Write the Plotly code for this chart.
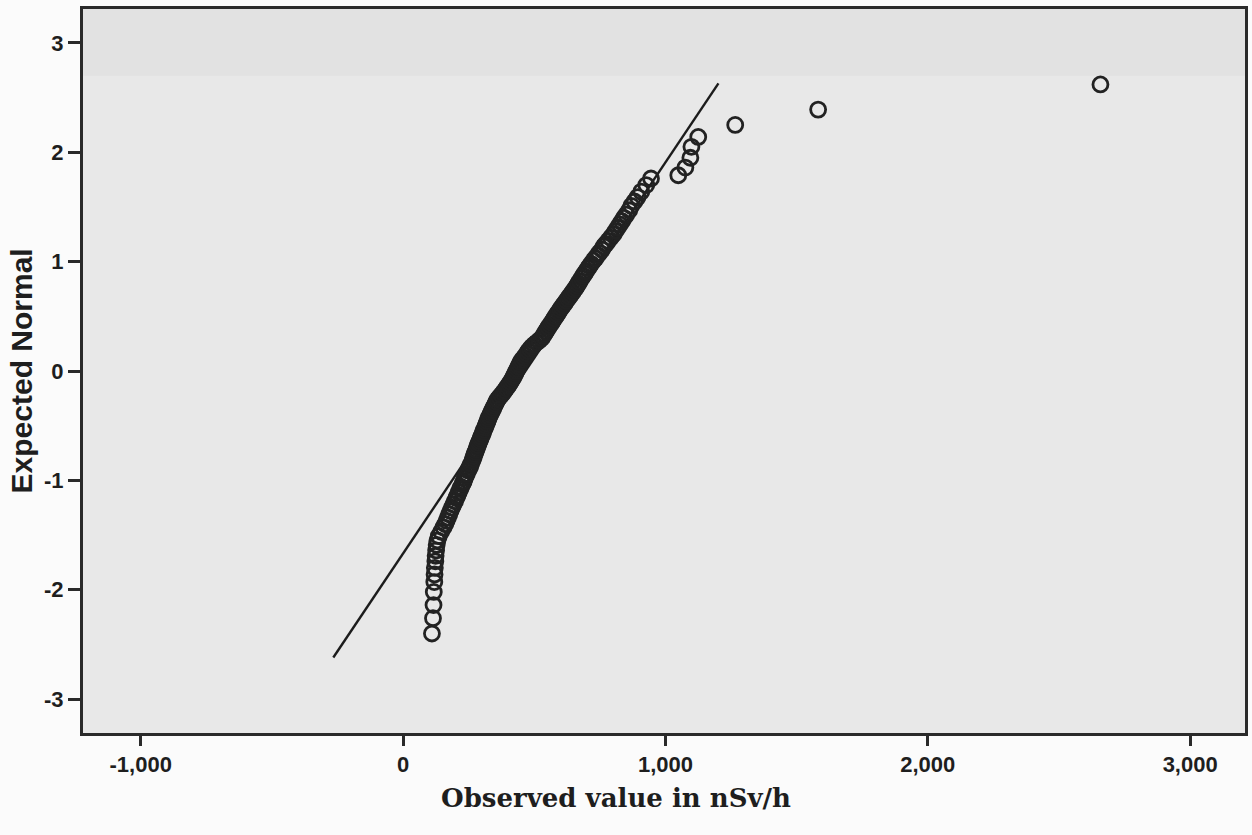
import plotly.graph_objects as go

# Normal Q-Q plot of dose-rate readings (nSv/h)
observed = [
    110, 114, 116, 117, 119, 120, 121, 123, 124, 126, 128, 131,
    136, 145, 154, 161, 166, 171, 176, 181, 186, 192, 198, 203,
    207, 212, 218, 221, 227, 231, 235, 239, 243, 248, 252, 256,
    259, 264, 267, 270, 273, 276, 279, 282, 285, 288, 292, 295,
    298, 302, 305, 308, 312, 315, 318, 322, 325, 328, 332, 336,
    340, 344, 348, 352, 356, 360, 367, 374, 381, 387, 393, 399,
    405, 410, 415, 420, 424, 428, 432, 436, 440, 444, 448, 453,
    460, 466, 472, 477, 484, 490, 499, 509, 519, 528, 534, 539,
    544, 549, 554, 560, 566, 571, 576, 582, 587, 593, 598, 604,
    610, 616, 622, 628, 634, 640, 646, 652, 658, 663, 668, 673,
    681, 686, 692, 697, 705, 711, 717, 726, 733, 742, 748, 758,
    765, 772, 782, 792, 802, 810, 818, 826, 834, 842, 851, 862,
    870, 882, 894, 908, 927, 945, 1049, 1076, 1095, 1099, 1125, 1266,
    1582, 2658,
]
expected_normal = [
    -2.40, -2.26, -2.14, -2.02, -1.93, -1.86, -1.80, -1.74, -1.69, -1.64, -1.59, -1.55,
    -1.51, -1.47, -1.43, -1.40, -1.37, -1.34, -1.31, -1.28, -1.25, -1.22, -1.19, -1.16,
    -1.14, -1.11, -1.08, -1.06, -1.03, -1.01, -0.98, -0.96, -0.94, -0.91, -0.89, -0.87,
    -0.85, -0.82, -0.80, -0.78, -0.76, -0.74, -0.72, -0.70, -0.68, -0.66, -0.64, -0.62,
    -0.60, -0.58, -0.56, -0.54, -0.52, -0.50, -0.48, -0.46, -0.44, -0.42, -0.40, -0.38,
    -0.36, -0.34, -0.32, -0.30, -0.28, -0.26, -0.24, -0.22, -0.20, -0.18, -0.16, -0.14,
    -0.12, -0.10, -0.08, -0.06, -0.04, -0.02, 0.00, 0.02, 0.04, 0.06, 0.08, 0.10,
    0.12, 0.14, 0.16, 0.18, 0.20, 0.22, 0.24, 0.26, 0.28, 0.30, 0.32, 0.34,
    0.36, 0.38, 0.40, 0.42, 0.44, 0.46, 0.48, 0.50, 0.52, 0.54, 0.56, 0.58,
    0.60, 0.62, 0.64, 0.66, 0.68, 0.70, 0.72, 0.74, 0.76, 0.78, 0.80, 0.82,
    0.85, 0.87, 0.89, 0.91, 0.94, 0.96, 0.98, 1.01, 1.03, 1.06, 1.08, 1.11,
    1.14, 1.16, 1.19, 1.22, 1.25, 1.28, 1.31, 1.34, 1.37, 1.40, 1.43, 1.47,
    1.51, 1.55, 1.59, 1.64, 1.70, 1.76, 1.79, 1.86, 1.95, 2.05, 2.14, 2.25,
    2.39, 2.62,
]

# Reference normal line end points
ref_line_x = [-266, 1202]
ref_line_y = [-2.62, 2.63]

x_tick_vals = [-1000, 0, 1000, 2000, 3000]
x_tick_text = ["-1,000", "0", "1,000", "2,000", "3,000"]
y_tick_vals = [-3, -2, -1, 0, 1, 2, 3]
y_tick_text = ["-3", "-2", "-1", "0", "1", "2", "3"]

x_range = [-1220, 3209]
y_range = [-3.31, 3.31]

fig = go.Figure()

fig.add_trace(go.Scatter(
    x=ref_line_x, y=ref_line_y, mode="lines",
    line=dict(color="#1c1c1c", width=2.4),
    showlegend=False, hoverinfo="skip",
))

fig.add_trace(go.Scatter(
    x=observed, y=expected_normal, mode="markers",
    marker=dict(symbol="circle-open", size=15, color="#222222",
                line=dict(width=2.8, color="#222222")),
    showlegend=False,
))

# slightly different shade along the top of the plotting area
fig.add_shape(type="rect", xref="x", yref="y",
              x0=x_range[0], x1=x_range[1], y0=2.7, y1=y_range[1],
              fillcolor="#e2e2e2", line=dict(width=0), layer="below")

tick_font = dict(family="Liberation Sans, Arial, sans-serif", size=22,
                 color="#1e1e1e", weight="bold")

fig.update_xaxes(
    range=x_range, tickvals=x_tick_vals, ticktext=x_tick_text,
    ticks="outside", ticklen=10, tickwidth=2.5, tickcolor="#2a2a2a",
    showline=True, linewidth=3, linecolor="#2a2a2a", mirror=True,
    showgrid=False, zeroline=False, tickfont=tick_font,
)
fig.update_yaxes(
    range=y_range, tickvals=y_tick_vals, ticktext=y_tick_text,
    ticks="outside", ticklen=12, tickwidth=2.5, tickcolor="#2a2a2a",
    showline=True, linewidth=3, linecolor="#2a2a2a", mirror=True,
    showgrid=False, zeroline=False, tickfont=tick_font,
)

fig.add_annotation(
    text="<b>Expected Normal</b>", xref="paper", yref="paper",
    x=-0.053, y=0.5, textangle=-90, showarrow=False,
    xanchor="center", yanchor="middle",
    font=dict(family="Liberation Sans, Arial, sans-serif", size=30, color="#1e1e1e"),
)
fig.add_annotation(
    text="<b>Observed value in nSv/h</b>", xref="paper", yref="paper",
    x=0.459, y=-0.09, showarrow=False,
    xanchor="center", yanchor="middle",
    font=dict(family="DejaVu Serif, serif", size=26, color="#1e1e1e"),
)

fig.update_layout(
    width=1252, height=835,
    margin=dict(l=83, r=4, t=9, b=102),
    paper_bgcolor="#fbfbfb", plot_bgcolor="#e8e8e8",
)

fig.write_html("out.html")
